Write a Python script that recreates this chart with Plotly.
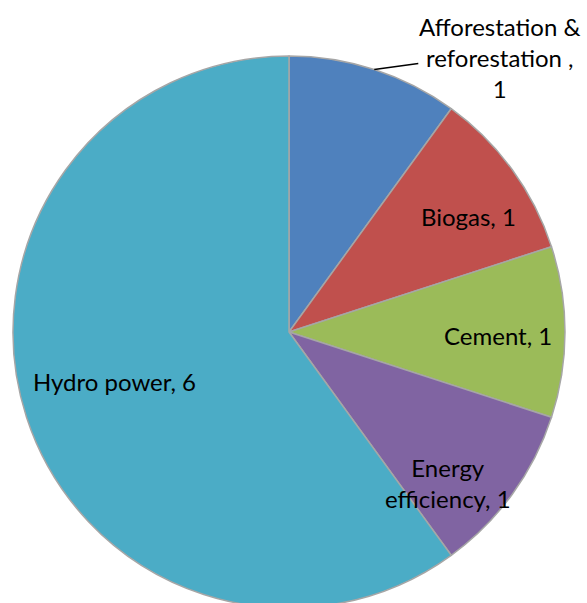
import math
import plotly.graph_objects as go

# ---- data ----
categories = ["Afforestation &<br>reforestation ,", "Biogas", "Cement", "Energy<br>efficiency", "Hydro power"]
values = [1, 1, 1, 1, 6]
colors = ["#4F81BD", "#C0504D", "#9BBB59", "#8064A2", "#4BACC6"]

# ---- layout geometry (style) ----
W, H = 587, 608
ML, MR, MT, MB = 13, 22, 56, 0
R = (W - ML - MR) / 2.0
CX, CY = ML + R, MT + R
FONT = "Lato"
FS = 24

# per-label placement style: (radial factor, dx, dy) in px
label_style = [
    (1.0, 126, -12),
    (0.75, 12, 6),
    (0.75, 2, 3),
    (0.75, -8, 29),
    (0.75, 22, -14),
]


def to_paper(px, py):
    return (px - ML) / (W - ML - MR), (H - MB - py) / (H - MT - MB)


fig = go.Figure(
    go.Pie(
        labels=categories,
        values=values,
        sort=False,
        direction="clockwise",
        rotation=0,
        marker=dict(colors=colors, line=dict(color="#A6A6A6", width=1.5)),
        textinfo="none",
        hoverinfo="label+value",
        domain=dict(x=[0, 1], y=[0, 1]),
    )
)

total = sum(values)
cum = 0
annotations = []
shapes = []
for i, (lab, v) in enumerate(zip(categories, values)):
    mid = (cum + v / 2.0) / total * 2 * math.pi
    cum += v
    rf, dx, dy = label_style[i]
    ex, ey = CX + R * math.sin(mid), CY - R * math.cos(mid)
    lx = CX + rf * R * math.sin(mid) + dx
    ly = CY - rf * R * math.cos(mid) + dy
    text = f"{lab}<br>{v}" if rf >= 1.0 else (f"{lab}, {v}")
    px, py = to_paper(lx, ly)
    annotations.append(dict(
        x=px, y=py, xref="paper", yref="paper", text=text, showarrow=False,
        xanchor="center", yanchor="middle", align="center",
        font=dict(family=FONT, size=FS, color="#000000"),
    ))
    if rf >= 1.0:
        x0, y0 = to_paper(ex, ey)
        x1, y1 = to_paper(ex + 44, ey - 6)
        shapes.append(dict(type="line", xref="paper", yref="paper",
                           x0=x0, y0=y0, x1=x1, y1=y1,
                           line=dict(color="#000000", width=1.5)))

fig.update_layout(
    width=W, height=H,
    margin=dict(l=ML, r=MR, t=MT, b=MB, pad=0),
    paper_bgcolor="white", plot_bgcolor="white",
    showlegend=False,
    annotations=annotations,
    shapes=shapes,
)

fig.write_html(
    "out.html",
    config={"displayModeBar": False},
    post_script="document.body.style.margin='0';document.body.style.overflow='hidden';",
)
